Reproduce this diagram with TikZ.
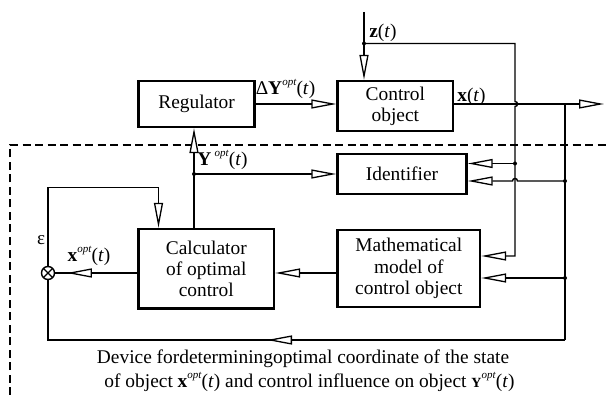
\documentclass[tikz,border=0pt]{standalone}
\usepackage{fontspec}
\setmainfont{Liberation Serif}
\usetikzlibrary{arrows.meta,decorations.markings}
\newcommand\optsup{\raisebox{0.5em}{\fontsize{11}{11}\selectfont\textit{opt}}}
\begin{document}
\begin{tikzpicture}[x=1pt,y=-1pt,
  box/.style={draw, line width=2.4pt, inner sep=0pt, align=center,
    font=\fontsize{19.4}{21.3}\selectfont},
  ln/.style={line width=1.4pt},
  tip/.style={-{Triangle[fill=white,length=25pt,width=9pt,line width=1.3pt]}},
  midtip/.style={postaction={decorate, decoration={markings,
    mark=at position #1 with {\arrow{Triangle[fill=white,length=25pt,width=9pt,line width=1.3pt]}}}}},
  lab/.style={inner sep=0pt, font=\fontsize{19.4}{21.3}\selectfont},
  dotc/.style={circle, fill, inner sep=0pt, minimum size=4pt},
  dashline/.style={line width=1.5pt, dash pattern=on 8pt off 4.5pt}
]
\useasboundingbox (0,0) rectangle (607,395);

% boxes
\node[box, minimum width=116pt, minimum height=46pt] (reg) at (196.6,104) {Regulator};
\node[box, minimum width=115.4pt, minimum height=50pt] (ctrl) at (395.3,106) {Control\\object};
\node[box, minimum width=129pt, minimum height=40pt] (ident) at (402,174) {Identifier};
\node[box, minimum width=135.4pt, minimum height=79.5pt] (calc) at (206.3,268.8) {Calculator\\of optimal\\control};
\node[box, minimum width=142.4pt, minimum height=77pt] (model) at (408.8,268.5) {Mathematical\\model of\\control object};
\node[draw, circle, line width=1.4pt, minimum size=13pt, inner sep=0pt,
  path picture={\draw[line width=1.2pt] (path picture bounding box.north west) -- (path picture bounding box.south east)
    (path picture bounding box.north east) -- (path picture bounding box.south west);}] (sum) at (48,273) {};

% coordinates
\coordinate (ztop) at (364,12);
\coordinate (zdot) at (364,43.5);
\coordinate (c515top) at (515,43.5);
\coordinate (c515bot) at (515,256);
\coordinate (out) at (604,104);
\coordinate (j1) at (565,104);
\coordinate (j2) at (565,340);
\coordinate (d1) at (515,163.5);
\coordinate (d2) at (565,181);
\coordinate (d3) at (565,278);
\coordinate (yd) at (194,174);
\coordinate (fbr) at (158.5,187.5);

% dashed boundary
\draw[dashline] (10,395) -- (10,145) -- (607,145);

% z(t) input
\draw[ln, tip] (ztop) -- (ztop |- ctrl.north);
\draw[ln, tip] (zdot) -- (c515top) -- (515,101.5)
  .. controls (518.3,101.5) and (518.3,106.5) .. (515,106.5)
  -- (c515bot) -- (c515bot -| model.east);
\node[dotc] at (zdot) {};

% regulator -> control object
\draw[ln, tip] (reg.east) -- (reg.east -| ctrl.west);
% output
\draw[ln, tip] (ctrl.east |- reg.east) -- (out);
\draw[ln] (j1) -- (j2);

% identifier inputs
\draw[ln, tip] (d1) -- (d1 -| ident.east);
\draw[ln, tip] (d2) -- (517.5,181)
  .. controls (517.5,177.7) and (512.5,177.7) .. (512.5,181)
  -- (d2 -| ident.east);
\node[dotc] at (d1) {};
\node[dotc] at (d2) {};

% model inputs
\draw[ln, tip] (d3) -- (d3 -| model.east);
\node[dotc] at (d3) {};

% model -> calculator
\draw[ln, tip] (model.west |- sum) -- (calc.east |- sum);
% calculator -> sum
\draw[ln, midtip=70.6pt] (calc.west |- sum) -- (sum.east);
% return line
\draw[ln, midtip=298pt] (j2) -- (sum |- j2) -- (sum.south);
% epsilon feedback
\draw[ln, tip] (sum.north) |- (fbr) -- (fbr |- calc.north);

% calculator -> regulator, identifier
\draw[ln, tip] (yd |- calc.north) -- (yd |- reg.south);
\draw[ln, tip] (yd) -- (yd -| ident.west);
\node[dotc] at (yd) {};

% labels
\node[lab] at (383,33) {\textbf{z}(\textit{t})};
\node[lab] at (285.5,89) {Δ\textbf{Y}\optsup(\textit{t})};
\node[lab] at (471.5,97) {\textbf{x}(\textit{t})};
\node[lab] at (222.5,160) {\textbf{Y}\,\optsup(\textit{t})};
\node[lab] at (89,256) {\textbf{x}\optsup(\textit{t})};
\node[lab, font=\fontsize{19}{19}\selectfont] at (41,240) {ε};
\node[lab] at (303,359) {Device fordeterminingoptimal coordinate of the state};
\node[lab] at (309.5,382) {of object \textbf{x}\optsup(\textit{t}) and control influence on object {\fontsize{14}{14}\selectfont\textbf{Y}}\optsup(\textit{t})};
\end{tikzpicture}
\end{document}
